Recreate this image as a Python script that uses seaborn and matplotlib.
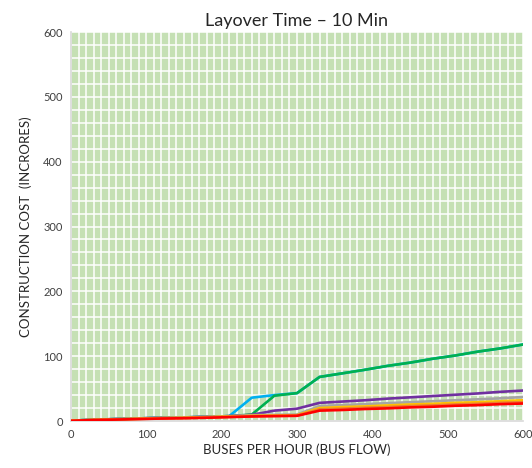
import matplotlib
matplotlib.use("Agg")
import matplotlib.pyplot as plt
from matplotlib.ticker import MultipleLocator
import pandas as pd
import seaborn as sns

# buses per hour
bus_flow = [0, 30, 60, 90, 120, 150, 180, 210, 240, 270, 300,
            330, 360, 390, 420, 450, 480, 510, 540, 570, 600]

# construction cost (in crores) per option
cost_blue = [0.5, 2, 3, 4, 5, 5.5, 6.5, 7.5, 36, 40, 43,
             68, 73.5, 79, 85, 90, 96, 101, 107, 112, 118]
cost_green = [0.5, 2, 3, 4, 5, 5.5, 6.5, 7.5, 10, 39, 43,
              68, 73.5, 79, 85, 90, 96, 101, 107, 112, 118]
cost_purple = [0.5, 2, 3, 4, 5, 5.5, 6.5, 7.5, 9.5, 16, 19,
               28, 30, 32, 34.5, 36.5, 38.5, 40.5, 42.5, 45, 47]
cost_gray = [0.5, 2, 3, 4, 5, 5.5, 6.5, 7.5, 9, 9.5, 10,
             23, 24.5, 26, 27.5, 29, 30.5, 32, 33.5, 35, 37]
cost_yellow = [0.4, 1.8, 2.7, 3.5, 4.5, 5, 6, 7, 8, 8.5, 9,
               20, 21.5, 22.5, 24, 25.5, 26.5, 28, 29, 30.5, 32]
cost_orange = [0.3, 1.6, 2.4, 3.2, 4, 4.6, 5.5, 6.5, 7.5, 8, 8.5,
               18, 19, 20.5, 21.5, 23, 24, 25.5, 26.5, 28, 29]
cost_red = [0.3, 1.5, 2.2, 3, 3.8, 4.3, 5, 6, 7, 7.5, 8,
            16, 17, 18.5, 19.5, 21, 22, 23.5, 24.5, 26, 27]

series = {
    "blue": cost_blue,
    "green": cost_green,
    "purple": cost_purple,
    "gray": cost_gray,
    "yellow": cost_yellow,
    "orange": cost_orange,
    "red": cost_red,
}
colors = {
    "blue": "#00B0F0",
    "green": "#00B050",
    "purple": "#7030A0",
    "gray": "#A5A5A5",
    "yellow": "#FFC000",
    "orange": "#ED7D31",
    "red": "#FF0000",
}

rows = []
for name, vals in series.items():
    for x, y in zip(bus_flow, vals):
        rows.append({"flow": x, "cost": y, "option": name})
df = pd.DataFrame(rows)

sns.set_style("white")
plt.rcParams["font.family"] = ["Lato", "DejaVu Sans"]

fig = plt.figure(figsize=(5.32, 4.68), dpi=100)
ax = fig.add_axes([0.1335, 0.1004, 0.8495, 0.8312])
ax.set_facecolor("#C5E0B4")

ax.xaxis.set_major_locator(MultipleLocator(100))
ax.xaxis.set_minor_locator(MultipleLocator(10))
ax.yaxis.set_major_locator(MultipleLocator(100))
ax.yaxis.set_minor_locator(MultipleLocator(20))
ax.grid(True, which="both", color="white", linewidth=1.1)
ax.set_axisbelow(True)

sns.lineplot(data=df, x="flow", y="cost", hue="option",
             hue_order=list(series.keys()), palette=colors,
             linewidth=1.9, legend=False, ax=ax, zorder=3)

ax.set_xlim(0, 600)
ax.set_ylim(0, 600)
ax.tick_params(which="both", length=0, labelsize=8, colors="#404040", pad=6)

for side in ["top", "right"]:
    ax.spines[side].set_visible(False)
for side in ["left", "bottom"]:
    ax.spines[side].set_color("#D9D9D9")
    ax.spines[side].set_linewidth(1.2)

ax.set_title("Layover Time \u2013 10 Min", fontsize=13, color="#262626", pad=4)
ax.set_xlabel("BUSES PER HOUR (BUS FLOW)", fontsize=9.5, color="#262626", labelpad=2)
ax.set_ylabel("CONSTRUCTION COST  (INCRORES)", fontsize=9.5, color="#262626", labelpad=8)

fig.savefig("out.png", dpi=100)
plt.close(fig)
